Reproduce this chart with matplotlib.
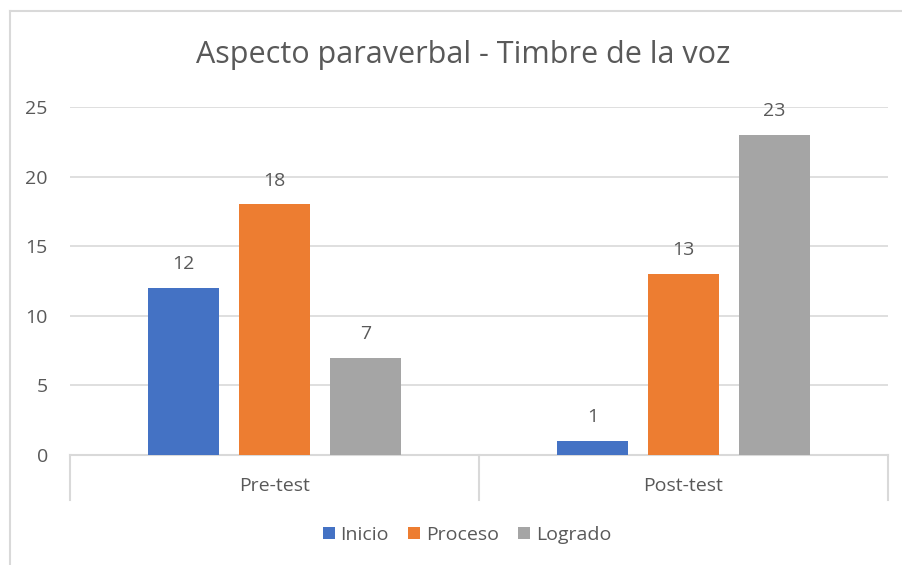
import matplotlib
matplotlib.use("Agg")
import matplotlib.pyplot as plt
from matplotlib.lines import Line2D
from matplotlib.patches import Patch
from matplotlib.transforms import blended_transform_factory
import numpy as np

categories = ["Pre-test", "Post-test"]
series_names = ["Inicio", "Proceso", "Logrado"]
inicio = [12, 1]
proceso = [18, 13]
logrado = [7, 23]
colors = ["#4472C4", "#ED7D31", "#A5A5A5"]
yticks = [0, 5, 10, 15, 20, 25]
title = "Aspecto paraverbal - Timbre de la voz"

plt.rcParams['font.family'] = ['Open Sans', 'DejaVu Sans']
txt = "#595959"
grid = "#D9D9D9"
fs = 14

W, H = 902, 565
fig = plt.figure(figsize=(W / 100, H / 100), dpi=100)

# chart border (top and left edges visible)
fig.add_artist(Line2D([10 / W, 10 / W], [0, 1 - 11 / H], color=grid, lw=1.5, transform=fig.transFigure))
fig.add_artist(Line2D([10 / W, 1], [1 - 11 / H, 1 - 11 / H], color=grid, lw=1.5, transform=fig.transFigure))

left, right = 70 / W, 888 / W
bottom, top = 1 - 455 / H, 1 - 107 / H
ax = fig.add_axes([left, bottom, right - left, top - bottom])

centers = np.arange(len(categories)) + 0.5
bw = 0.1735
offsets = [-0.222, 0.0, 0.222]
for vals, name, col, off in zip([inicio, proceso, logrado], series_names, colors, offsets):
    bars = ax.bar(centers + off, vals, width=bw, color=col, label=name, zorder=3)
    for b, v in zip(bars, vals):
        ax.text(b.get_x() + b.get_width() / 2, v + 1.7, str(v), ha="center", va="center",
                fontsize=fs, color=txt)

ax.set_xlim(0, len(categories))
ax.set_ylim(0, 25)
ax.set_yticks(yticks)
ax.set_yticklabels([str(t) for t in yticks], fontsize=fs, color=txt)
ax.tick_params(axis="y", length=0, pad=16)
ax.yaxis.grid(True, color=grid, lw=1.2, zorder=0)
for s in ["top", "right", "left"]:
    ax.spines[s].set_visible(False)
ax.spines["bottom"].set_color(grid)
ax.spines["bottom"].set_linewidth(1.5)

ax.set_xticks(centers)
ax.set_xticklabels(categories, fontsize=fs, color=txt)
ax.tick_params(axis="x", length=0, pad=16)

# category separators
tr = blended_transform_factory(ax.transData, fig.transFigure)
for x in range(len(categories) + 1):
    ax.add_line(Line2D([x, x], [1 - 455 / H, 1 - 500 / H], color=grid, lw=1.5,
                       transform=tr, clip_on=False))

fig.text(0.5 * (196 + 730) / W, 1 - 55 / H, title, ha="center", va="center", fontsize=22, color=txt)

handles = [Patch(facecolor=c, edgecolor="none") for c in colors]
fig.legend(handles, series_names, loc="center", bbox_to_anchor=(467 / W, 1 - 535 / H), ncol=3,
           frameon=False, fontsize=fs, labelcolor=txt, handlelength=0.6, handleheight=0.6,
           handletextpad=0.3, columnspacing=1.0)

fig.savefig("out.png", dpi=100)
